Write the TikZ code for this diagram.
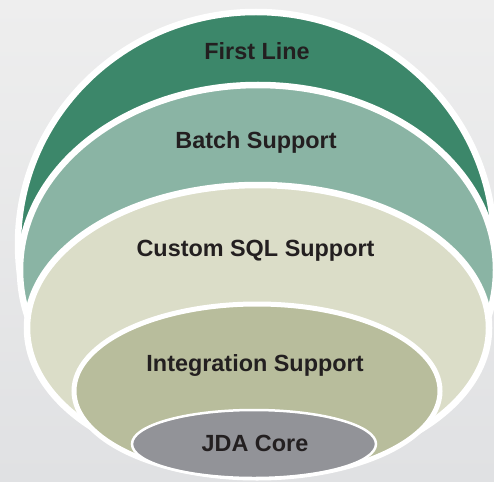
\documentclass[tikz,border=0pt]{standalone}
\usepackage{fontspec}
\setmainfont{Liberation Sans}
\definecolor{bgtop}{HTML}{EEEEEE}
\definecolor{bgbot}{HTML}{E0E1E3}
\definecolor{firstc}{HTML}{3C876A}
\definecolor{batchc}{HTML}{8AB4A4}
\definecolor{customc}{HTML}{DBDDC8}
\definecolor{integc}{HTML}{B8BD9C}
\definecolor{corec}{HTML}{929398}
\definecolor{txtc}{HTML}{231F20}
\begin{document}
\begin{tikzpicture}[x=1pt,y=-1pt,
  layer/.style={draw=white,line width=#1},
  lbl/.style={anchor=base,text=txtc,font=\fontsize{23.4}{28}\selectfont\bfseries,inner sep=0pt}]
  \useasboundingbox (0,0) rectangle (494,481);
  \shade[top color=bgtop,bottom color=bgbot] (0,0) rectangle (494,481);
  % outer layers, lower parts hidden
  \begin{scope}
    \clip (-10,-10) rectangle (504,430);
    \path[layer=6.5,fill=firstc] (256,244) ellipse [x radius=238,y radius=232];
    \path[layer=6.5,fill=batchc] (258,270) ellipse [x radius=238,y radius=185];
  \end{scope}
  \path[layer=6.5,fill=customc] (258,328) ellipse [x radius=231,y radius=143];
  \path[layer=5,fill=integc] (257,391) ellipse [x radius=183,y radius=87];
  \path[layer=2.5,fill=corec] (254,444) ellipse [x radius=122,y radius=34];
  \node[lbl] (first) at (257,59.5) {First Line};
  \node[lbl] (batch) at (256,148.5) {Batch Support};
  \node[lbl] (custom) at (255.5,256.5) {Custom SQL Support};
  \node[lbl] (integ) at (255,371.5) {Integration Support};
  \node[lbl] (core) at (255,451.5) {JDA Core};
\end{tikzpicture}
\end{document}
